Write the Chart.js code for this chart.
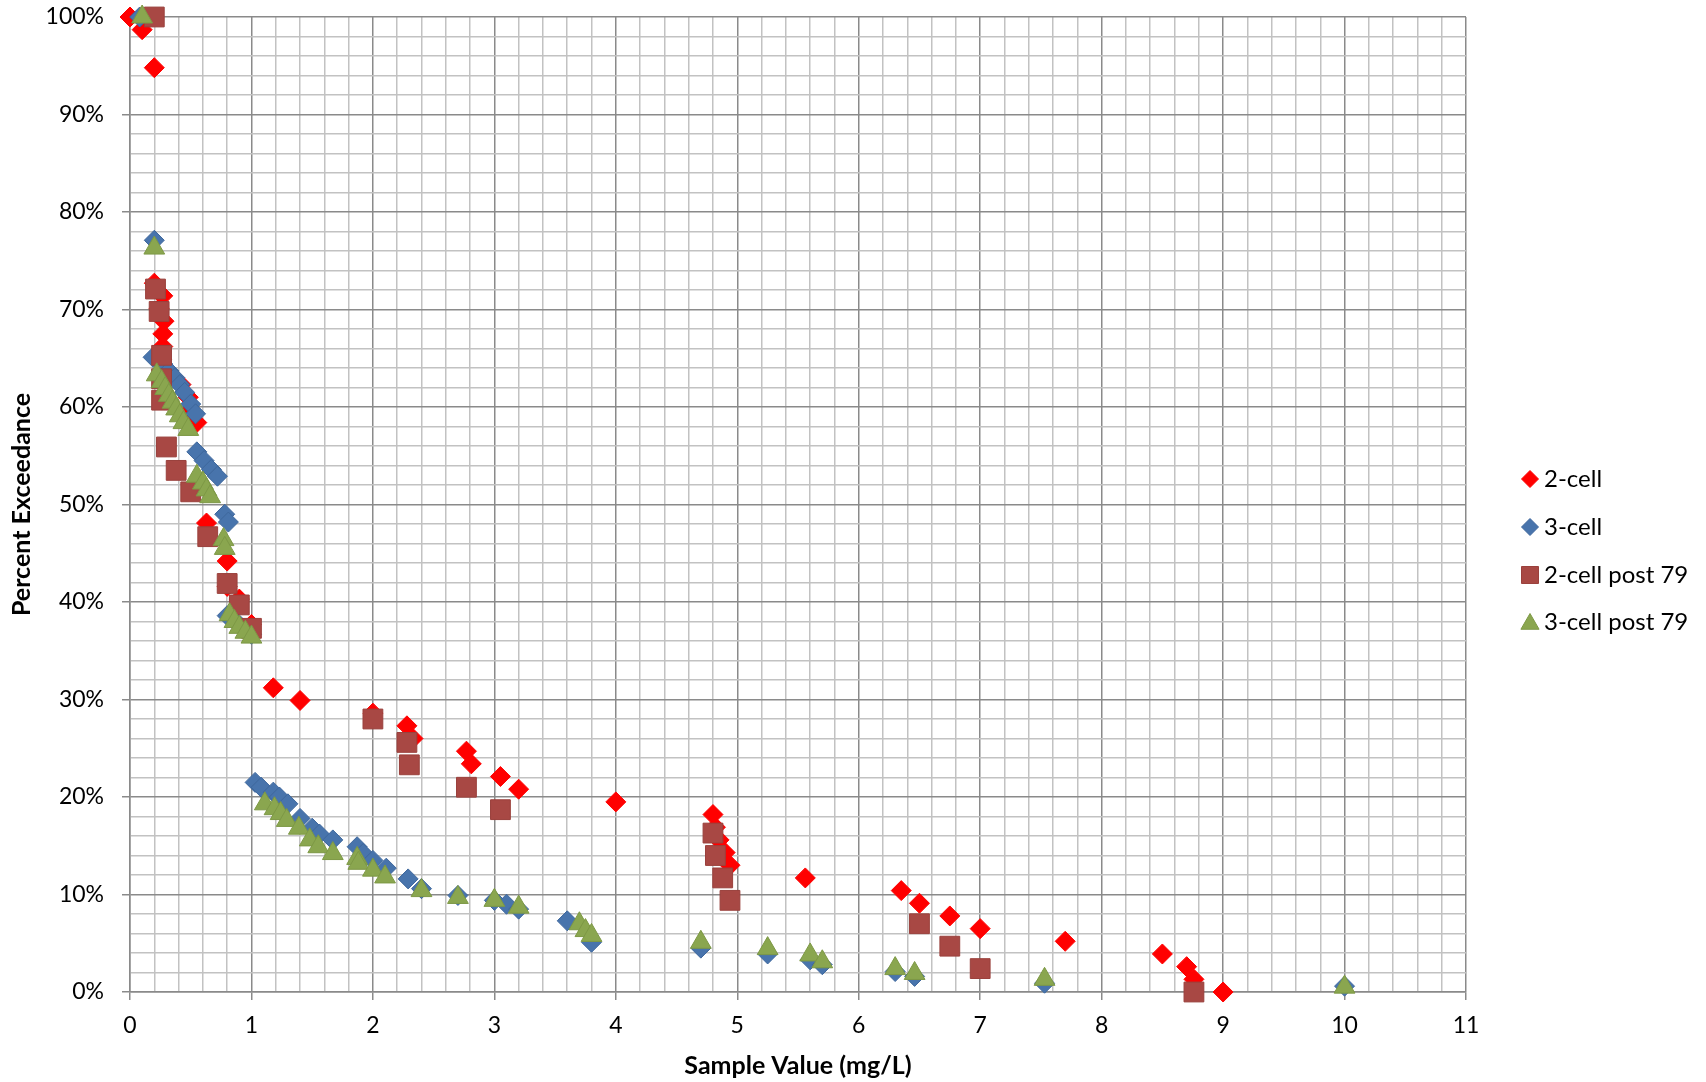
<!DOCTYPE html>
<html>
<head>
<meta charset="utf-8">
<title>Percent Exceedance</title>
<script src="https://cdn.jsdelivr.net/npm/chart.js@4.4.1/dist/chart.umd.min.js"></script>
<style>
    html, body { margin: 0; padding: 0; background: #fff; }
    #wrap { width: 1706px; height: 1082px; position: relative; }
</style>
</head>
<body>
<div id="wrap"><canvas id="chart"></canvas></div>
<script>
// Series values (x = mg/L, y = percent exceedance)
const twoCellX = [0, 0.1, 0.2, 0.2, 0.27, 0.24, 0.28, 0.27, 0.27, 0.26, 0.3, 0.42, 0.48, 0.5, 0.55,
    0.63, 0.8, 0.8, 0.9, 1.0, 1.18, 1.4, 2.0, 2.28, 2.33, 2.77, 2.81, 3.05, 3.2, 4.0,
    4.8, 4.82, 4.85, 4.9, 4.94, 5.56, 6.35, 6.5, 6.75, 7.0, 7.7, 8.5, 8.7, 8.76, 9.0];
const twoCellY = [100, 98.7, 94.8, 72.7, 71.4, 70.1, 68.8, 67.5, 66.2, 64.9, 63.6, 62.3, 61.0, 59.7, 58.4,
    48.1, 44.2, 41.6, 40.3, 37.7, 31.2, 29.9, 28.6, 27.3, 26.0, 24.7, 23.4, 22.1, 20.8, 19.5,
    18.2, 16.9, 15.6, 14.3, 13.0, 11.7, 10.4, 9.1, 7.8, 6.5, 5.2, 3.9, 2.6, 1.3, 0];

const threeCellX = [0.08, 0.2, 0.19, 0.27, 0.32, 0.37, 0.41, 0.45, 0.5, 0.54, 0.55, 0.61, 0.67, 0.72,
    0.78, 0.81, 0.8, 0.88, 0.95, 1.0, 1.03, 1.08, 1.18, 1.23, 1.3, 1.4, 1.5, 1.56, 1.67,
    1.87, 1.92, 2.0, 2.11, 2.29, 2.4, 2.7, 3.0, 3.1, 3.2, 3.6, 3.8, 4.7, 5.25, 5.6, 5.7,
    6.3, 6.46, 7.53, 10.0];
const threeCellY = [100, 77.1, 65.1, 64.4, 63.7, 63.0, 62.3, 61.5, 60.3, 59.3, 55.4, 54.5, 53.6, 52.9,
    49.0, 48.2, 38.6, 37.9, 37.2, 36.7, 21.5, 21.0, 20.5, 20.0, 19.3, 17.8, 16.8, 16.2, 15.6,
    14.9, 14.2, 13.5, 12.7, 11.6, 10.6, 9.9, 9.4, 9.0, 8.5, 7.3, 5.1, 4.5, 3.9, 3.3, 2.8,
    2.1, 1.6, 0.9, 0.6];

const twoCellPostX = [0.2, 0.21, 0.24, 0.26, 0.26, 0.26, 0.3, 0.38, 0.5, 0.64, 0.8, 0.9, 1.0,
    2.0, 2.28, 2.3, 2.77, 3.05, 4.8, 4.82, 4.88, 4.94, 6.5, 6.75, 7.0, 8.76];
const twoCellPostY = [100, 72.1, 69.8, 65.3, 62.9, 60.7, 55.9, 53.5, 51.3, 46.7, 41.9, 39.7, 37.3,
    28.0, 25.6, 23.3, 21.0, 18.7, 16.3, 14.0, 11.7, 9.4, 7.0, 4.7, 2.4, 0];

const threeCellPostX = [0.1, 0.2, 0.22, 0.26, 0.29, 0.32, 0.35, 0.38, 0.41, 0.44, 0.48, 0.55, 0.6,
    0.63, 0.66, 0.77, 0.78, 0.82, 0.86, 0.9, 0.95, 1.0, 1.11, 1.19, 1.24, 1.29, 1.39, 1.48,
    1.55, 1.67, 1.87, 1.88, 2.0, 2.1, 2.4, 2.7, 3.0, 3.2, 3.7, 3.75, 3.8, 4.7, 5.25, 5.6,
    5.7, 6.3, 6.46, 7.53, 10.0];
const threeCellPostY = [100, 76.3, 63.3, 62.6, 61.9, 61.2, 60.5, 59.8, 59.1, 58.4, 57.7, 52.9, 52.2,
    51.5, 50.8, 46.4, 45.5, 38.7, 38.0, 37.4, 36.9, 36.4, 19.3, 18.8, 18.3, 17.6, 16.8, 15.6,
    14.9, 14.2, 13.7, 13.2, 12.5, 11.8, 10.4, 9.7, 9.4, 8.7, 7.0, 6.3, 5.8, 5.1, 4.45, 3.8,
    3.1, 2.4, 1.9, 1.3, 0.5];

const seriesNames = ['2-cell', '3-cell', '2-cell post 79', '3-cell post 79'];

const FONT = 'Lato, "Open Sans", sans-serif';
const MAJOR = '#8a8a8a';
const MINOR = '#c2c2c2';

const toPoints = (xs, ys) => xs.map((x, i) => ({ x: x, y: ys[i] }));
const isWhole = (v, step) => Math.abs(v / step - Math.round(v / step)) < 1e-6;

const styles = [
    { pointStyle: 'rectRot',  radius: 10, fill: '#ff0000', border: '#ff0000', order: 4 },
    { pointStyle: 'rectRot',  radius: 10, fill: '#4874ac', border: '#3e679c', order: 3 },
    { pointStyle: 'rect',     radius: 14, fill: '#a84844', border: '#9a403c', order: 2 },
    { pointStyle: 'triangle', radius: 12, fill: '#8aa64f', border: '#7d9845', order: 1 }
];

const seriesData = [
    toPoints(twoCellX, twoCellY),
    toPoints(threeCellX, threeCellY),
    toPoints(twoCellPostX, twoCellPostY),
    toPoints(threeCellPostX, threeCellPostY)
];

// Legend drawn on the right, Excel style
const sideLegend = {
    id: 'sideLegend',
    afterDraw(chart) {
        const ctx = chart.ctx;
        const rows = [479, 527, 575, 622];
        ctx.save();
        chart.data.datasets.forEach((ds, i) => {
            const st = styles[i];
            ctx.fillStyle = st.fill;
            ctx.strokeStyle = st.border;
            Chart.helpers.drawPoint(ctx, {
                pointStyle: st.pointStyle,
                radius: st.pointStyle === 'rect' ? 12 : st.pointStyle === 'triangle' ? 10.5 : 8.5,
                rotation: 0,
                borderWidth: 1
            }, 1530, st.pointStyle === 'triangle' ? rows[i] + 2 : rows[i]);
            ctx.fillStyle = '#000';
            ctx.font = '24px ' + FONT;
            ctx.textBaseline = 'middle';
            ctx.textAlign = 'left';
            ctx.fillText(ds.label, 1544, rows[i]);
        });
        ctx.restore();
    }
};

new Chart(document.getElementById('chart'), {
    type: 'scatter',
    data: {
        datasets: seriesData.map((pts, i) => ({
            label: seriesNames[i],
            data: pts,
            pointStyle: styles[i].pointStyle,
            pointRadius: styles[i].radius,
            pointHoverRadius: styles[i].radius,
            backgroundColor: styles[i].fill,
            borderColor: styles[i].border,
            borderWidth: 1,
            order: styles[i].order,
            clip: false
        }))
    },
    options: {
        responsive: true,
        maintainAspectRatio: false,
        animation: false,
        layout: {
            padding: { left: 0, top: 17, right: 240, bottom: 0 }
        },
        plugins: {
            legend: { display: false },
            tooltip: { enabled: false }
        },
        scales: {
            x: {
                type: 'linear',
                min: 0,
                max: 11,
                afterFit: scale => {
                    scale.height = 90;
                    scale.paddingLeft = 0;
                    scale.paddingRight = 0;
                },
                grid: {
                    color: c => (c.tick && isWhole(c.tick.value, 1)) ? MAJOR : MINOR,
                    tickColor: c => (c.tick && isWhole(c.tick.value, 1)) ? MAJOR : 'rgba(0,0,0,0)',
                    lineWidth: 1.5,
                    tickLength: 8
                },
                border: { color: MAJOR, width: 1.5 },
                ticks: {
                    stepSize: 0.2,
                    maxTicksLimit: 100,
                    autoSkip: false,
                    maxRotation: 0,
                    padding: 12,
                    color: '#000',
                    font: { family: FONT, size: 23 },
                    callback: v => isWhole(v, 1) ? String(Math.round(v)) : ''
                },
                title: {
                    display: true,
                    text: 'Sample Value (mg/L)',
                    color: '#000',
                    font: { family: FONT, size: 25, weight: 'bold' },
                    padding: { top: 0, bottom: 1 }
                }
            },
            y: {
                type: 'linear',
                min: 0,
                max: 100,
                afterFit: scale => {
                    scale.width = 130;
                    scale.paddingTop = 0;
                    scale.paddingBottom = 0;
                },
                grid: {
                    color: c => (c.tick && isWhole(c.tick.value, 10)) ? MAJOR : MINOR,
                    tickColor: c => (c.tick && isWhole(c.tick.value, 10)) ? MAJOR : 'rgba(0,0,0,0)',
                    lineWidth: 1.5,
                    tickLength: 8
                },
                border: { color: MAJOR, width: 1.5 },
                ticks: {
                    stepSize: 2,
                    maxTicksLimit: 100,
                    autoSkip: false,
                    padding: 18,
                    color: '#000',
                    font: { family: FONT, size: 23 },
                    callback: v => isWhole(v, 10) ? Math.round(v) + '%' : ''
                },
                title: {
                    display: true,
                    text: 'Percent Exceedance',
                    color: '#000',
                    font: { family: FONT, size: 25, weight: 'bold' },
                    padding: { top: 7, bottom: 0 }
                }
            }
        }
    },
    plugins: [sideLegend]
});
</script>
</body>
</html>
